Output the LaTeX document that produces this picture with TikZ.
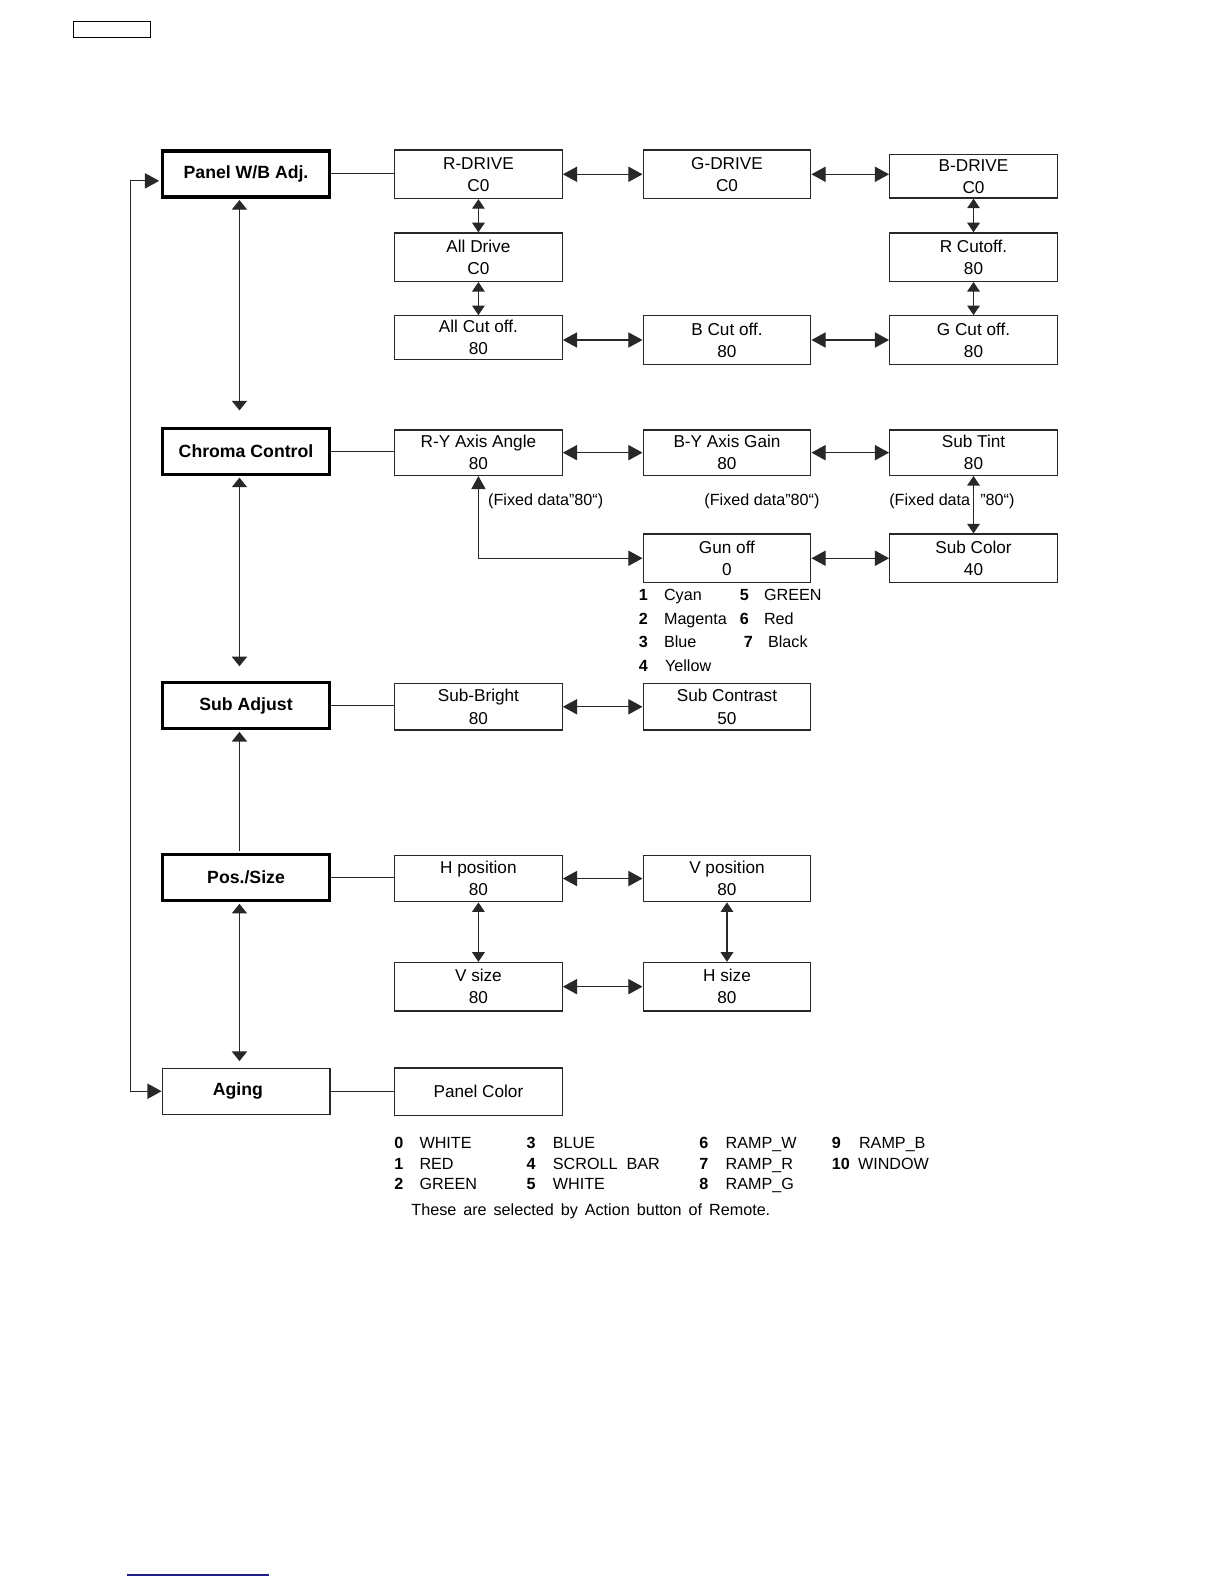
\documentclass[tikz,border=0pt]{standalone}
\usepackage{fontspec}
\setmainfont{Liberation Sans}
\usetikzlibrary{arrows.meta}
\definecolor{navyline}{RGB}{30,30,140}
\definecolor{edge}{RGB}{40,40,40}
\begin{document}
\begin{tikzpicture}[x=1pt,y=-1pt,
  subbox/.style={draw=edge, line width=1.2pt, minimum width=166pt, minimum height=48pt, inner sep=0pt, align=center, font=\fontsize{17}{22}\selectfont},
  mainbox/.style={draw=black, line width=3.5pt, minimum width=165.5pt, minimum height=45.5pt, inner sep=0pt, font=\fontsize{17.5}{21}\selectfont\bfseries},
  agingbox/.style={draw=edge, line width=1.2pt, minimum width=166pt, minimum height=45.5pt, inner sep=0pt, font=\fontsize{17.5}{21}\selectfont\bfseries},
  conn/.style={draw=edge, line width=1.2pt},
  harr/.style={conn, {Triangle[length=14pt,width=15pt]}-{Triangle[length=14pt,width=15pt]}},
  varr/.style={conn, {Triangle[length=9.5pt,width=12.5pt]}-{Triangle[length=9.5pt,width=12.5pt]}},
  colarr/.style={conn, {Triangle[length=9.5pt,width=15pt]}-{Triangle[length=9.5pt,width=15pt]}},
  fbarr/.style={conn, {Triangle[length=14pt,width=15pt]}-{Triangle[length=14pt,width=15pt]}},
  note/.style={inner sep=0pt, anchor=base west, font=\fontsize{16}{19}\selectfont},
  num/.style={inner sep=0pt, anchor=base west, font=\fontsize{16}{19}\selectfont\bfseries},
]
\useasboundingbox (0,0) rectangle (1211.4,1567.7);
\fill[white] (0,0) rectangle (1211.4,1567.7);

% small tag box top-left
\node[draw=black, line width=1.2pt, minimum width=76pt, minimum height=16pt, inner sep=0pt] (tag) at (110.8,29.2) {};

% main column
\node[mainbox] (panel) at (243.5,172) {Panel W/B Adj.};
\node[mainbox] (chroma) at (243.5,446.7) {Chroma Control};
\node[mainbox] (subadj) at (243.5,698.4) {Sub Adjust};
\node[mainbox] (pos) at (243.5,868.5) {Pos./Size};
\node[agingbox] (aging) at (243.5,1080) {Aging\kern16pt\relax};

% Panel W/B sub menu
\node[subbox] (rdrive) at (473.5,172.5) {R-DRIVE\\C0};
\node[subbox] (gdrive) at (719.5,172.5) {G-DRIVE\\C0};
\node[subbox, minimum height=43pt] (bdrive) at (963.5,174.5) {B-DRIVE\\C0};
\node[subbox] (alldrive) at (473.5,254.5) {All Drive\\C0};
\node[subbox] (rcut) at (963.5,254.5) {R Cutoff.\\80};
\node[subbox, minimum height=43pt] (allcut) at (473.5,334) {All Cut off.\\80};
\node[subbox] (bcut) at (719.5,336.5) {B Cut off.\\80};
\node[subbox] (gcut) at (963.5,336.5) {G Cut off.\\80};

% Chroma sub menu
\node[subbox, minimum height=45pt] (ry) at (473.5,448) {R-Y Axis Angle\\80};
\node[subbox, minimum height=45pt] (byaxis) at (719.5,448) {B-Y Axis Gain\\80};
\node[subbox, minimum height=45pt] (subtint) at (963.5,448) {Sub Tint\\80};
\node[subbox] (gunoff) at (719.5,552.5) {Gun off\\0};
\node[subbox] (subcolor) at (963.5,552.5) {Sub Color\\40};

% Sub adjust
\node[subbox, minimum height=46pt] (subbright) at (473.5,699.5) {Sub-Bright\\80};
\node[subbox, minimum height=46pt] (subcontrast) at (719.5,699.5) {Sub Contrast\\50};

% Pos/Size
\node[subbox, minimum height=46pt] (hpos) at (473.5,869.5) {H position\\80};
\node[subbox, minimum height=46pt] (vpos) at (719.5,869.5) {V position\\80};
\node[subbox] (vsize) at (473.5,976.5) {V size\\80};
\node[subbox] (hsize) at (719.5,976.5) {H size\\80};

% Aging
\node[subbox, minimum height=47pt] (panelcolor) at (473.5,1080.5) {Panel Color};

% connectors main -> first sub box
\draw[conn] (panel.east) -- (panel.east -| rdrive.west);
\draw[conn] (chroma.east) -- (chroma.east -| ry.west);
\draw[conn] (subadj.east) -- (subadj.east -| subbright.west);
\draw[conn] (pos.east) -- (pos.east -| hpos.west);
\draw[conn] (aging.east) -- (aging.east -| panelcolor.west);

% main column vertical arrows
\coordinate (cx) at (237,0);
\draw[colarr, shorten <=1.5pt, shorten >=16pt] (panel.south -| cx) -- (chroma.north -| cx);
\draw[colarr, shorten <=1.5pt, shorten >=14.5pt] (chroma.south -| cx) -- (subadj.north -| cx);
\draw[conn, -{Triangle[length=9.5pt,width=15pt]}, shorten <=1.5pt, shorten >=1.5pt] (pos.north -| cx) -- (subadj.south -| cx);
\draw[colarr, shorten <=1.5pt, shorten >=6.5pt] (pos.south -| cx) -- (aging.north -| cx);

% feedback loop
\coordinate (fbtop) at (129,179);
\coordinate (fbbot) at (129,1080);
\draw[fbarr, shorten >=1.5pt] (aging.west) -- (fbbot) -- (fbtop) -- (panel.west |- fbtop);

% Panel W/B arrows
\draw[harr] (rdrive.east) -- (gdrive.west);
\draw[harr] (gdrive.east) -- (gdrive.east -| bdrive.west);
\draw[varr] (rdrive.south) -- (alldrive.north);
\draw[varr] (alldrive.south) -- (allcut.north);
\draw[varr] (bdrive.south) -- (rcut.north);
\draw[varr] (rcut.south) -- (gcut.north);
\draw[harr] (allcut.east |- bcut) -- (bcut.west);
\draw[harr] (bcut.east) -- (gcut.west);

% Chroma arrows
\draw[harr] (ry.east) -- (byaxis.west);
\draw[harr] (byaxis.east) -- (subtint.west);
\draw[varr] (subtint.south) -- (subcolor.north);
\draw[harr] (gunoff.east) -- (subcolor.west);
\draw[conn, {Triangle[length=13pt,width=14pt]}-{Triangle[length=14pt,width=15pt]}] (ry.south) |- (gunoff.west);

\node[note] (fix1) at (483,500.5) {(Fixed data”80“)};
\node[note] (fix2) at (697,500.5) {(Fixed data”80“)};
\node[note] (fix3a) at (880,500.5) {(Fixed data};
\node[note] (fix3b) at (970,500.5) {”80“)};

% Gun off list
\node[num] (g1) at (632,594.7) {1};
\node[note] (g1t) at (657,594.7) {Cyan};
\node[num] (g5) at (732,594.7) {5};
\node[note] (g5t) at (756,594.7) {GREEN};
\node[num] (g2) at (632,617.7) {2};
\node[note] (g2t) at (657,617.7) {Magenta};
\node[num] (g6) at (732,617.7) {6};
\node[note] (g6t) at (756,617.7) {Red};
\node[num] (g3) at (632,640.7) {3};
\node[note] (g3t) at (657,640.7) {Blue};
\node[num] (g7) at (736,640.7) {7};
\node[note] (g7t) at (760,640.7) {Black};
\node[num] (g4) at (632,664.7) {4};
\node[note] (g4t) at (658,664.7) {Yellow};

% Sub adjust / pos arrows
\draw[harr] (subbright.east) -- (subcontrast.west);
\draw[harr] (hpos.east) -- (vpos.west);
\draw[harr] (vsize.east) -- (hsize.west);
\draw[varr] (hpos.south) -- (vsize.north);
\draw[varr] (vpos.south) -- (hsize.north);

% Panel color list
\node[num] (p0) at (390,1136.7) {0};
\node[note] (p0t) at (415,1136.7) {WHITE};
\node[num] (p1) at (390,1157.7) {1};
\node[note] (p1t) at (415,1157.7) {RED};
\node[num] (p2) at (390,1177.7) {2};
\node[note] (p2t) at (415,1177.7) {GREEN};
\node[num] (p3) at (521,1136.7) {3};
\node[note] (p3t) at (547,1136.7) {BLUE};
\node[num] (p4) at (521,1157.7) {4};
\node[note] (p4t) at (547,1157.7) {SCROLL~~BAR};
\node[num] (p5) at (521,1177.7) {5};
\node[note] (p5t) at (547,1177.7) {WHITE};
\node[num] (p6) at (692,1136.7) {6};
\node[note] (p6t) at (718,1136.7) {RAMP\_W};
\node[num] (p7) at (692,1157.7) {7};
\node[note] (p7t) at (718,1157.7) {RAMP\_R};
\node[num] (p8) at (692,1177.7) {8};
\node[note] (p8t) at (718,1177.7) {RAMP\_G};
\node[num] (p9) at (823,1136.7) {9};
\node[note] (p9t) at (850,1136.7) {RAMP\_B};
\node[num] (p10) at (823,1157.7) {10};
\node[note] (p10t) at (849,1157.7) {WINDOW};
\node[note] (remark) at (407,1202.7) {\spaceskip=6.9pt plus 1pt These are selected by Action button of Remote.};

% bottom blue rule
\draw[navyline, line width=1.5pt] (126,1559) -- (266,1559);
\end{tikzpicture}
\end{document}
